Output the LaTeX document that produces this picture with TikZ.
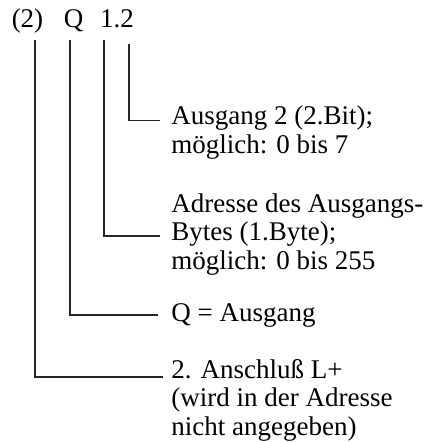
\documentclass[tikz,border=0pt]{standalone}
\usepackage{fontspec}
\setmainfont{Liberation Serif}
\usetikzlibrary{positioning}

\begin{document}
\begin{tikzpicture}[
    x=0.5pt, y=-0.5pt,
    every node/.style={font=\fontsize{13.5}{14.25}\selectfont, inner sep=0pt},
    part/.style={anchor=base},
    note/.style={anchor=base west, align=left},
    lead/.style={line width=0.55pt, black!85},
]
\useasboundingbox (0,0) rectangle (429,442);
% address parts
\node[part] (conn) at (27.5,28) {(2)};
\node[part] (kind) at (73.5,28) {Q};
\node[part] (addr) at (117,28) {1.2};
% explanations (placed by the baseline of their last line)
\node[note] (bit) at (171,153.5) {Ausgang 2 (2.Bit);\\möglich: 0 bis 7};
\node[note] (byte) at (171,269.5) {Adresse des Ausgangs-\\Bytes (1.Byte);\\möglich: 0 bis 255};
\node[note] (out) at (171,321) {Q = Ausgang};
\node[note] (term) at (171,435) {2. Anschluß L+\\(wird in der Adresse\\nicht angegeben)};

% leader lines
\draw[lead] ([shift={(12,16)}]addr.base) |- ([shift={(-11,-33)}]bit.base west);
\draw[lead] ([shift={(-13,12)}]addr.base) |- ([shift={(-11,-33.5)}]byte.base west);
\draw[lead] ([shift={(-3.5,12)}]kind.base) |- ([shift={(-13,-6)}]out.base west);
\draw[lead] ([shift={(7.5,12)}]conn.base) |- ([shift={(-8,-58)}]term.base west);
\end{tikzpicture}
\end{document}
